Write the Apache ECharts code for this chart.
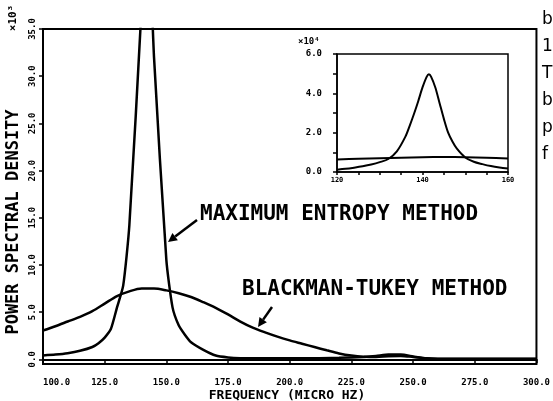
<!DOCTYPE html>
<html>
<head>
<meta charset="utf-8">
<script src="https://cdn.jsdelivr.net/npm/echarts@6/dist/echarts.min.js"></script>
<style>
html, body { margin: 0; padding: 0; background: #fff; }
#chart { width: 553px; height: 401px; }
</style>
</head>
<body>
<div id="chart"></div>
<script>
// main plot, values x10^3
var freqMem = [100, 105, 110, 115, 120, 122.5, 125, 127.5, 130, 132.5, 135, 140, 142, 145, 150, 152.5, 155, 157.5, 160, 165,
    170, 175, 180, 190, 200, 210, 220, 230, 235, 240, 245, 250, 255, 260, 270, 280, 290, 300];
var memValues = [0.4, 0.5, 0.65, 0.9, 1.3, 1.7, 2.3, 3.2, 5.5, 7.8, 14.2, 37.5, 50, 32, 10.5, 5.5, 3.6, 2.6, 1.8, 1.0,
    0.4, 0.2, 0.12, 0.1, 0.1, 0.1, 0.15, 0.25, 0.35, 0.5, 0.5, 0.3, 0.1, 0.05, 0.05, 0.05, 0.05, 0.05];

var freqBt = [100, 105, 110, 115, 120, 125, 130, 135, 140, 145, 150, 155, 160, 165, 170, 175, 180, 185, 190, 195,
    200, 205, 210, 215, 220, 225, 230, 235, 240, 245, 250, 255, 260, 270, 280, 290, 300];
var btValues = [3.05, 3.5, 4.0, 4.5, 5.1, 5.9, 6.7, 7.2, 7.5, 7.5, 7.3, 7.0, 6.6, 6.05, 5.45, 4.75, 4.0, 3.35, 2.85, 2.4,
    2.0, 1.65, 1.3, 0.95, 0.62, 0.4, 0.28, 0.25, 0.33, 0.36, 0.25, 0.1, 0.04, 0.03, 0.03, 0.03, 0.03];

// inset, values x10^4
var insetFreqMem = [120, 122, 124, 126, 128, 130, 132, 134, 136, 137, 138, 139, 140, 141, 141.5, 142, 143, 144, 145, 146,
    147, 148, 150, 152, 154, 156, 158, 160];
var insetMemValues = [0.12, 0.16, 0.22, 0.29, 0.38, 0.5, 0.66, 1.05, 1.8, 2.35, 2.95, 3.6, 4.3, 4.85, 4.97, 4.85, 4.3, 3.5, 2.7, 2.0,
    1.55, 1.2, 0.74, 0.52, 0.4, 0.3, 0.23, 0.18];
var insetFreqBt = [120, 125, 130, 135, 140, 145, 150, 155, 160];
var insetBtValues = [0.64, 0.67, 0.7, 0.73, 0.75, 0.76, 0.75, 0.72, 0.69];

var plotFont = '"DejaVu Sans Mono", monospace';
var pageFont = '"DejaVu Sans", sans-serif';

function pairs(xs, ys) {
    var out = [];
    for (var i = 0; i < xs.length; i++) {
        out.push([xs[i], ys[i]]);
    }
    return out;
}

// line with a filled head at (x2, y2)
function arrow(x1, y1, x2, y2) {
    var dx = x2 - x1, dy = y2 - y1;
    var len = Math.sqrt(dx * dx + dy * dy);
    var ux = dx / len, uy = dy / len, hl = 9, hw = 4.5;
    var bx = x2 - ux * hl, by = y2 - uy * hl;
    return [
        {type: 'line', shape: {x1: x1, y1: y1, x2: bx, y2: by}, style: {stroke: '#000', lineWidth: 2.5}},
        {type: 'polygon', shape: {points: [[x2, y2], [bx - uy * hw, by + ux * hw], [bx + uy * hw, by - ux * hw]]}, style: {fill: '#000'}}
    ];
}

function label(text, x, y, size, opts) {
    opts = opts || {};
    return {
        type: 'text', x: x, y: y, rotation: opts.rotation || 0,
        style: {
            text: text, fill: '#000', fontFamily: opts.family || plotFont, fontWeight: opts.weight || 'bold', fontSize: size,
            align: opts.align || 'left', verticalAlign: 'middle'
        }
    };
}

var axisLine = {lineStyle: {color: '#000', width: 2}};
var tickStyle = {color: '#000', width: 1.5};
var labelBase = {color: '#000', fontFamily: plotFont, fontWeight: 'bold'};

var graphics = [
    label('POWER SPECTRAL DENSITY', 14, 222, 17, {rotation: Math.PI / 2, align: 'center'}),
    label('\u00d710\u00b3', 13, 18, 11, {rotation: Math.PI / 2, align: 'center'}),
    label('FREQUENCY (MICRO HZ)', 287, 396, 13, {align: 'center'}),
    label('MAXIMUM ENTROPY METHOD', 200, 215, 21),
    label('BLACKMAN-TUKEY METHOD', 242, 290, 21),
    label('\u00d710\u2074', 298, 42, 9)
].concat(arrow(197, 220, 168, 242), arrow(272, 307, 258, 327));

var pageLetters = ['b', '1', 'T', 'b', 'p', 'f'];
for (var i = 0; i < pageLetters.length; i++) {
    graphics.push(label(pageLetters[i], 542, 20 + i * 27, 17, {family: pageFont, weight: 'normal'}));
}

var myChart = echarts.init(document.getElementById('chart'));
var option = {
    animation: false,
    backgroundColor: '#fff',
    grid: [
        {left: 43, right: 16, top: 29, bottom: 37, show: true, borderColor: '#000', borderWidth: 2},
        {left: 337, top: 54, width: 171, height: 118, show: true, borderColor: '#000', borderWidth: 1.5, backgroundColor: '#fff'}
    ],
    xAxis: [
        {
            gridIndex: 0, type: 'value', min: 100, max: 300, interval: 25,
            axisLine: axisLine,
            axisTick: {length: 4, lineStyle: tickStyle},
            axisLabel: Object.assign({fontSize: 9, margin: 14, alignMinLabel: 'left', formatter: function (v) {
                return v.toFixed(1);
            }}, labelBase),
            splitLine: {show: false}
        },
        {
            gridIndex: 1, type: 'value', min: 120, max: 160, interval: 5,
            axisLine: {lineStyle: {color: '#000', width: 1.5}},
            axisTick: {length: 3, lineStyle: tickStyle},
            axisLabel: Object.assign({fontSize: 7, margin: 5, formatter: function (v) {
                return v % 20 === 0 ? String(v) : '';
            }}, labelBase),
            splitLine: {show: false}
        }
    ],
    yAxis: [
        {
            gridIndex: 0, type: 'value', min: -0.5, max: 35, splitNumber: 7,
            axisLine: axisLine,
            axisTick: {length: 4, lineStyle: tickStyle},
            axisLabel: Object.assign({fontSize: 9, margin: 6, rotate: 90, showMinLabel: false, formatter: function (v) {
                return v < 0 ? '' : v.toFixed(1);
            }}, labelBase),
            splitLine: {show: false}
        },
        {
            gridIndex: 1, type: 'value', min: 0, max: 6, interval: 1,
            axisLine: {lineStyle: {color: '#000', width: 1.5}},
            axisTick: {length: 4, lineStyle: tickStyle},
            axisLabel: Object.assign({fontSize: 9, margin: 15, formatter: function (v) {
                return v % 2 === 0 ? v.toFixed(1) : '';
            }}, labelBase),
            splitLine: {show: false}
        }
    ],
    series: [
        {
            name: 'Maximum entropy', type: 'line', xAxisIndex: 0, yAxisIndex: 0, data: pairs(freqMem, memValues),
            showSymbol: false, smooth: 0.2, clip: true, lineStyle: {color: '#000', width: 2.5}
        },
        {
            name: 'Blackman-Tukey', type: 'line', xAxisIndex: 0, yAxisIndex: 0, data: pairs(freqBt, btValues),
            showSymbol: false, smooth: 0.3, clip: true, lineStyle: {color: '#000', width: 2.5}
        },
        {
            name: 'Maximum entropy (inset)', type: 'line', xAxisIndex: 1, yAxisIndex: 1, data: pairs(insetFreqMem, insetMemValues),
            showSymbol: false, smooth: 0.3, lineStyle: {color: '#000', width: 2}
        },
        {
            name: 'Blackman-Tukey (inset)', type: 'line', xAxisIndex: 1, yAxisIndex: 1, data: pairs(insetFreqBt, insetBtValues),
            showSymbol: false, smooth: 0.3, lineStyle: {color: '#000', width: 2}
        }
    ],
    graphic: graphics
};
myChart.setOption(option);
</script>
</body>
</html>
